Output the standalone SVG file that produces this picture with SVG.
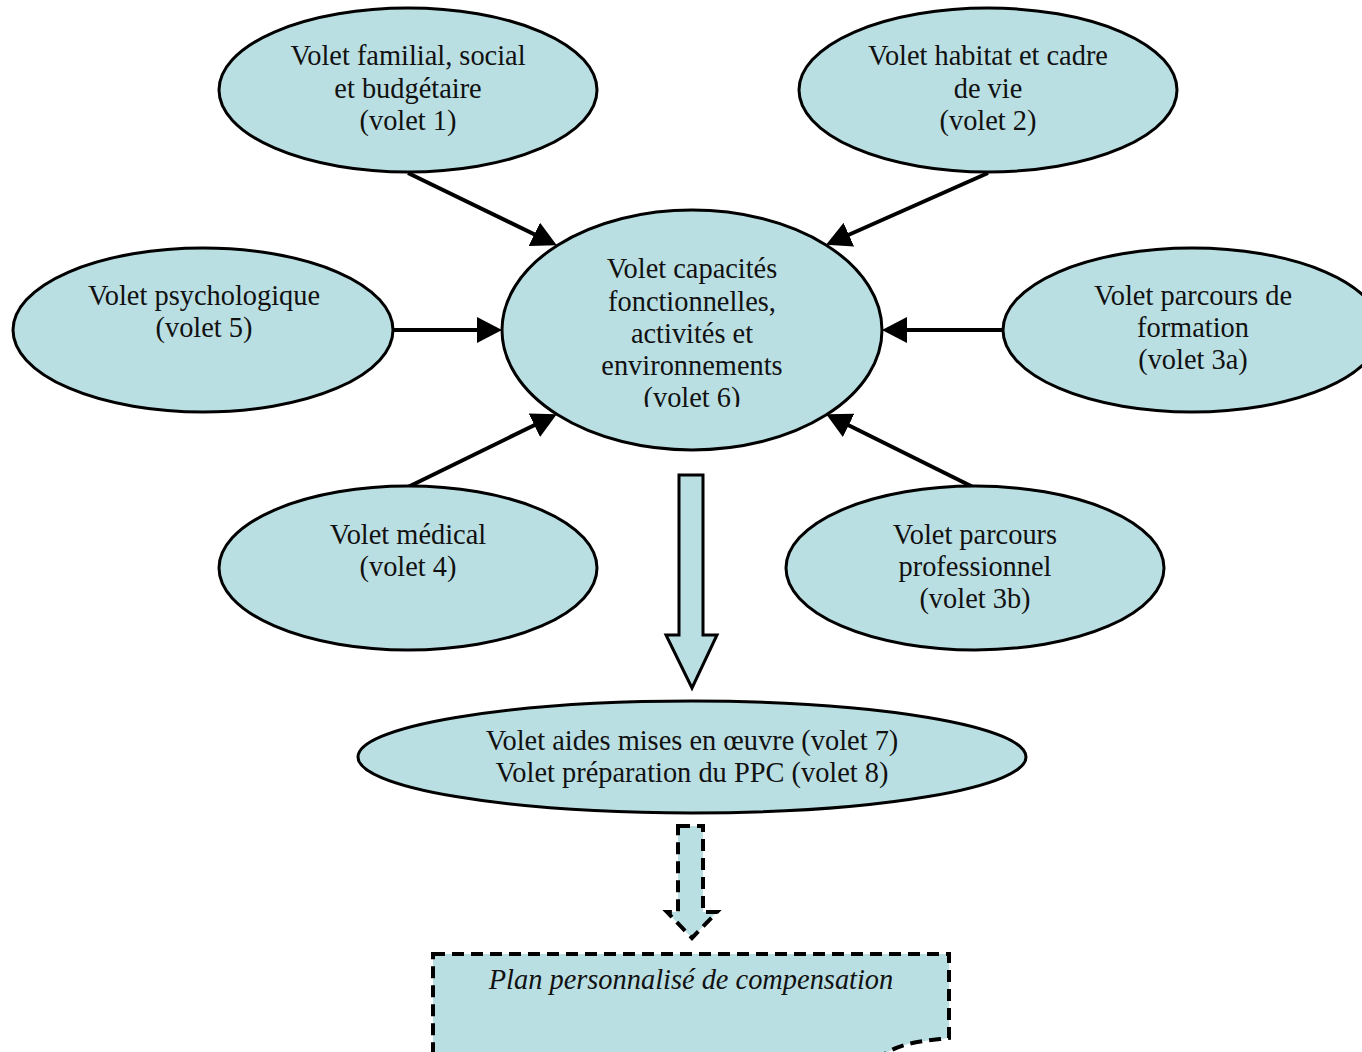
<svg xmlns="http://www.w3.org/2000/svg" width="1362" height="1052" viewBox="0 0 1362 1052">
<defs>
<style>
.n{fill:#badfe3;stroke:#000;stroke-width:3}
.t{font-family:"Liberation Serif","Times New Roman",serif;font-size:28.4px;fill:#111;text-anchor:middle}
.c{stroke:#000;stroke-width:4;fill:none}
.d{fill:#badfe3;stroke:#000;stroke-width:4;stroke-dasharray:12 7}
</style>
<marker id="ah" viewBox="0 0 25 26" refX="13" refY="13" markerWidth="25" markerHeight="26" markerUnits="userSpaceOnUse" orient="auto">
<path d="M0,0 L25,13 L0,26 Z" fill="#000"/>
</marker>
<clipPath id="cc"><rect x="500" y="200" width="390" height="207"/></clipPath>
</defs>
<rect width="1362" height="1052" fill="#fff"/>
<g id="connectors">
<line class="c" x1="408" y1="173" x2="546" y2="240" marker-end="url(#ah)"/>
<line class="c" x1="988" y1="173" x2="837" y2="240" marker-end="url(#ah)"/>
<line class="c" x1="393" y1="330" x2="490" y2="330" marker-end="url(#ah)"/>
<line class="c" x1="1003" y1="330" x2="894" y2="330" marker-end="url(#ah)"/>
<line class="c" x1="408" y1="487" x2="546" y2="419.5" marker-end="url(#ah)"/>
<line class="c" x1="975" y1="488" x2="837" y2="419.5" marker-end="url(#ah)"/>
<path id="block-arrow" class="n" d="M679,475 H703 V635 H717 L692,688 L666,635 H679 Z"/>
<path id="dashed-arrow" class="d" d="M678,826 H703 V912 H717 L692,938 L667,912 H678 Z"/>
</g>
<g id="n1"><ellipse class="n" cx="408" cy="90" rx="189" ry="82"/>
<text class="t"><tspan x="408" y="65">Volet familial, social</tspan><tspan x="408" y="98">et budgétaire</tspan><tspan x="408" y="130">(volet 1)</tspan></text></g>
<g id="n2"><ellipse class="n" cx="988" cy="90" rx="189" ry="82"/>
<text class="t"><tspan x="988" y="65">Volet habitat et cadre</tspan><tspan x="988" y="98">de vie</tspan><tspan x="988" y="130">(volet 2)</tspan></text></g>
<g id="n6"><ellipse class="n" cx="692" cy="330" rx="190" ry="120"/>
<text class="t" clip-path="url(#cc)"><tspan x="692" y="278">Volet capacités</tspan><tspan x="692" y="311">fonctionnelles,</tspan><tspan x="692" y="343">activités et</tspan><tspan x="692" y="375">environnements</tspan><tspan x="692" y="407">(volet 6)</tspan></text></g>
<g id="n5"><ellipse class="n" cx="203" cy="330" rx="190" ry="82"/>
<text class="t"><tspan x="204" y="305">Volet psychologique</tspan><tspan x="204" y="337">(volet 5)</tspan></text></g>
<g id="n3a"><ellipse class="n" cx="1192" cy="330" rx="189" ry="82"/>
<text class="t"><tspan x="1193" y="305">Volet parcours de</tspan><tspan x="1193" y="337">formation</tspan><tspan x="1193" y="369">(volet 3a)</tspan></text></g>
<g id="n4"><ellipse class="n" cx="408" cy="568" rx="189" ry="82"/>
<text class="t"><tspan x="408" y="544">Volet médical</tspan><tspan x="408" y="576">(volet 4)</tspan></text></g>
<g id="n3b"><ellipse class="n" cx="975" cy="568" rx="189" ry="82"/>
<text class="t"><tspan x="975" y="544">Volet parcours</tspan><tspan x="975" y="576">professionnel</tspan><tspan x="975" y="608">(volet 3b)</tspan></text></g>
<g id="n78"><ellipse class="n" cx="692" cy="757" rx="334" ry="56"/>
<text class="t"><tspan x="692" y="750">Volet aides mises en œuvre (volet 7)</tspan><tspan x="692" y="782">Volet préparation du PPC (volet 8)</tspan></text></g>
<g id="ppc"><path class="d" d="M433,954 H949 V1038 C925,1041 900,1042 882,1056 L433,1056 Z"/>
<text class="t" x="691" y="989" font-style="italic">Plan personnalisé de compensation</text></g>
</svg>
